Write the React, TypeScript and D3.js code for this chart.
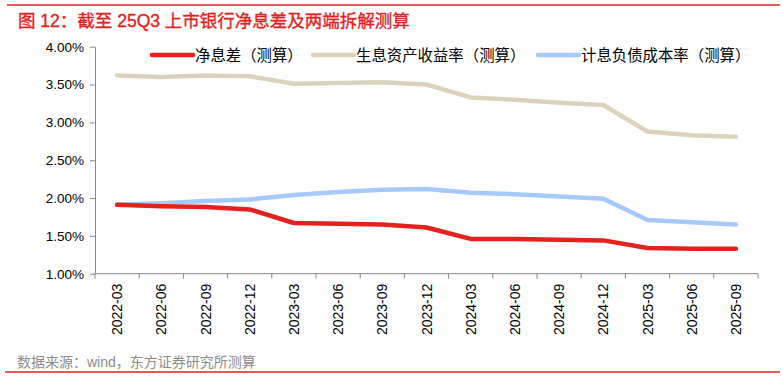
import React, { useEffect, useRef } from "react";
import * as d3 from "d3";

const categories = ["2022-03","2022-06","2022-09","2022-12","2023-03","2023-06","2023-09","2023-12","2024-03","2024-06","2024-09","2024-12","2025-03","2025-06","2025-09"];
const nim = [1.91,1.89,1.88,1.85,1.67,1.66,1.65,1.61,1.46,1.46,1.45,1.44,1.34,1.33,1.33];
const assetYield = [3.62,3.60,3.62,3.61,3.51,3.52,3.53,3.50,3.33,3.30,3.26,3.23,2.88,2.83,2.81];
const liabilityCost = [1.91,1.93,1.96,1.98,2.04,2.08,2.11,2.12,2.07,2.05,2.02,1.99,1.71,1.68,1.65];
const yTicks = [1.0,1.5,2.0,2.5,3.0,3.5,4.0];
const seriesNames = ["净息差（测算）","生息资产收益率（测算）","计息负债成本率（测算）"];
const colors = ["#e4211c","#ddd3bb","#a6c9fb"];
const title = "图 12：截至 25Q3 上市银行净息差及两端拆解测算";
const source = "数据来源：wind，东方证券研究所测算";

const W = 782, H = 379;
const FONT = "'Liberation Sans', Arial, 'Noto Sans CJK SC', sans-serif";

export default function App() {
  const ref = useRef<SVGSVGElement>(null);
  useEffect(() => {
    document.body.style.margin = "0";
    const svg = d3.select(ref.current);
    svg.selectAll("*").remove();
    const left = 95, right = 758, top = 46.7, bottom = 273.7;
    const x = d3.scaleBand<string>().domain(categories).range([left, right]);
    const y = d3.scaleLinear().domain([1, 4]).range([bottom, top]);

    svg.append("rect").attr("width", W).attr("height", H).attr("fill", "#fff");
    svg.append("line").attr("x1", 7).attr("x2", 780).attr("y1", 5).attr("y2", 5).attr("stroke", "#e4211c").attr("stroke-width", 1.6);
    svg.append("text").attr("x", 18).attr("y", 26.5).text(title)
      .attr("fill", "#e4211c").attr("stroke", "#e4211c").attr("stroke-width", 0.35)
      .attr("font-size", 17.5).attr("font-family", FONT);

    // y axis
    const ya = svg.append("g").attr("transform", `translate(${left},0)`)
      .call(d3.axisLeft(y).tickValues(yTicks).tickFormat(d => (d as number).toFixed(2) + "%").tickSize(5).tickSizeOuter(0));
    ya.select(".domain").attr("stroke", "#888");
    ya.selectAll(".tick line").attr("stroke", "#888");
    ya.selectAll("text").attr("font-size", 13.5).attr("font-family", FONT).attr("fill", "#000").attr("dx", -3);

    // x axis
    const xa = svg.append("g").attr("transform", `translate(0,${bottom})`);
    xa.append("line").attr("x1", left).attr("x2", right).attr("y1", 0).attr("y2", 0).attr("stroke", "#888");
    const bounds = categories.map(c => x(c)!).concat([right]);
    xa.selectAll("line.t").data(bounds).enter().append("line")
      .attr("x1", d => d).attr("x2", d => d).attr("y1", 0).attr("y2", 5).attr("stroke", "#888");
    xa.selectAll("text").data(categories).enter().append("text")
      .attr("transform", d => `translate(${x(d)! + x.bandwidth() / 2 + 5},10) rotate(-90)`)
      .attr("text-anchor", "end").attr("font-size", 14).attr("font-family", FONT).text(d => d);

    const line = d3.line<number>().x((_, i) => x(categories[i])! + x.bandwidth() / 2).y(d => y(d));
    const all = [nim, assetYield, liabilityCost];
    [1, 2, 0].forEach(k => {
      svg.append("path").attr("d", line(all[k])!).attr("fill", "none").attr("stroke", colors[k])
        .attr("stroke-width", 4.5).attr("stroke-linecap", "round").attr("stroke-linejoin", "round");
    });

    // legend
    const legendX = [152, 313, 538];
    seriesNames.forEach((n, i) => {
      const g = svg.append("g").attr("transform", `translate(${legendX[i]},55)`);
      g.append("line").attr("x1", 0).attr("x2", 41).attr("stroke", colors[i]).attr("stroke-width", 4.5).attr("stroke-linecap", "round");
      g.append("text").attr("x", 43).attr("y", 5.5).attr("font-size", 15.4).attr("font-family", FONT).text(n);
    });

    svg.append("text").attr("x", 17).attr("y", 366.5).text(source)
      .attr("fill", "#8c8c8c").attr("font-size", 14).attr("font-family", FONT);
    svg.append("line").attr("x1", 5).attr("x2", 780).attr("y1", 372).attr("y2", 372).attr("stroke", "#e4211c").attr("stroke-width", 1.5);
  }, []);
  return <svg ref={ref} width={W} height={H} style={{ display: "block" }} />;
}
